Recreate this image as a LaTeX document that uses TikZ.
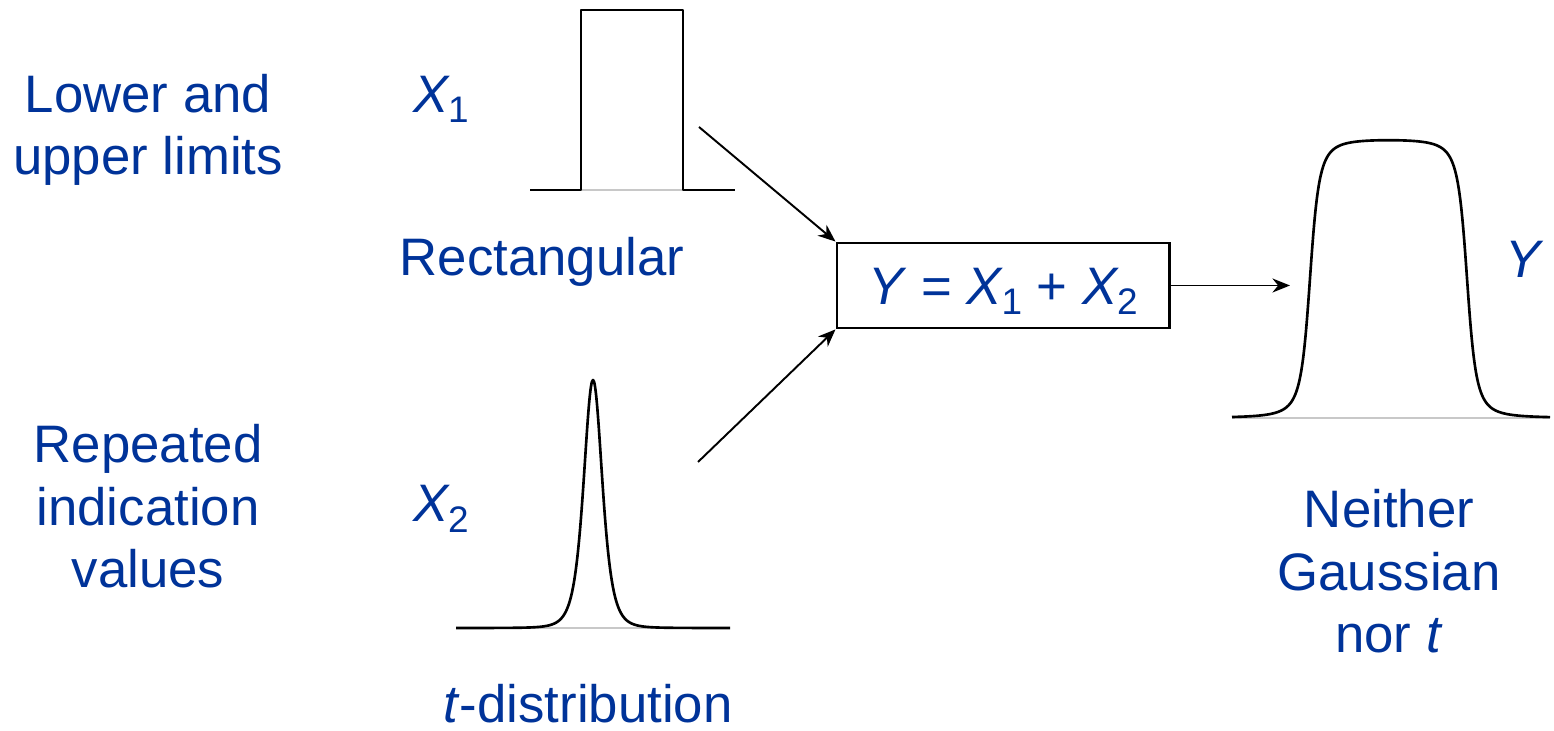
\documentclass[tikz,border=0pt]{standalone}
\usepackage{fontspec}
\setmainfont{Liberation Sans}
\usepackage{tikz}
\usetikzlibrary{arrows.meta}
\definecolor{cTxt}{HTML}{003399}
\definecolor{cAxis}{HTML}{C8C8C8}

\newcommand{\idx}[1]{\kern-0.6pt\raisebox{-0.1cm}{\fontsize{10.5}{12}\selectfont #1}}

\begin{document}
\begin{tikzpicture}[
    x=0.01cm, y=-0.01cm, font=\fontsize{15}{17.9}\selectfont,
    lbl/.style={text=cTxt, inner sep=0pt, align=center, anchor=base},
    axis/.style={draw=cAxis, line width=0.5pt},
    pdf/.style={draw=black, line width=0.75pt, line join=round},
    sig/.style={-{Stealth[length=5pt, width=4pt]}, line width=0.55pt},
    eqbox/.style={draw=black, line width=0.8pt, minimum width=3.32cm,
                  minimum height=0.85cm, inner sep=0pt, text=cTxt,
                  text height=0.6cm, text depth=0.23cm},
]
\useasboundingbox (0,0) rectangle (1554,731);

% ===================== Textos de la izquierda =====================
% (base = linea de base de la ultima linea)
\node[lbl] (lim) at (148,175) {Lower and\\upper limits};
\node[lbl] (rep) at (148,588) {Repeated\\indication\\values};

\node[lbl] (x1) at (441,113) {\textit{X}\idx{1}};
\node[lbl] (x2) at (441,522) {\textit{X}\idx{2}};

% ===================== Rectangular =====================
\draw[axis] (581,190) -- (683,190);
\draw[pdf] (530,190) -- (581,190) -- (581,10) -- (683,10) -- (683,190) -- (735,190);
\node[lbl] (rect) at (542,276) {Rectangular};

% ===================== t =====================
\draw[axis] (456,628) -- (730,628);
\draw[pdf] plot[domain=456:730, samples=275, smooth]
      (\x, {628-248*exp(-2.5*ln(1+((\x-593)/9.7)^2/4))});
\node[lbl] (tdist) at (588,723) {\textit{t}-distribution};

% ===================== Modelo =====================
\node[eqbox] (sum) at (1003,285.5)
      {\textit{Y} = \textit{X}\idx{1} + \textit{X}\idx{2}};

\coordinate (in1) at (699,127);
\coordinate (in2) at (698,462);
\coordinate (out) at (1290,285.5);

\draw[sig] (in1) -- (sum.north west);
\draw[sig] (in2) -- (sum.south west);
\draw[sig] (sum.east) -- (out);

% ===================== Salida =====================
\draw[axis] (1232,418) -- (1550,418);
\draw[pdf] plot[domain=1232:1550, samples=319, smooth]
      (\x, {418-280*0.5*(((\x-1310)/7)/sqrt(2+((\x-1310)/7)^2)
                        -((\x-1467)/7)/sqrt(2+((\x-1467)/7)^2))});
\node[lbl] (y) at (1525,278) {\textit{Y}};
\node[lbl] (neither) at (1389,653) {Neither\\Gaussian\\nor \textit{t}};

\end{tikzpicture}
\end{document}
